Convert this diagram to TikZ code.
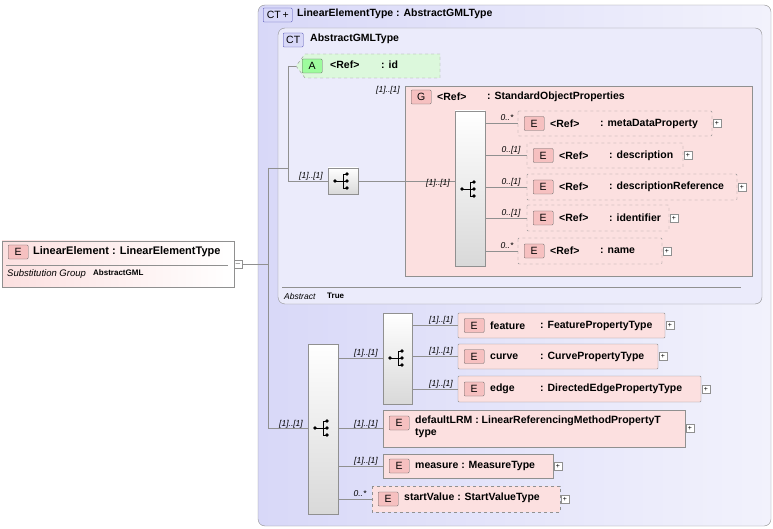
\documentclass[tikz,border=0pt]{standalone}
\usepackage{fontspec}
\setmainfont{Liberation Sans}
\begin{document}
\definecolor{lav}{HTML}{D8D8F8}
\definecolor{lav2}{HTML}{F2F2FC}
\definecolor{pk}{HTML}{FCE0E0}
\definecolor{pkd}{HTML}{F4B0B0}
\definecolor{gr}{HTML}{DCF8DC}
\definecolor{ln}{HTML}{909090}
\begin{tikzpicture}[x=1pt,y=-1pt,
  every node/.style={font=\fontsize{10.5}{12}\selectfont\bfseries, inner sep=0pt},
  box/.style={draw=ln, fill=pk},
  opt/.style={box, dashed},
  badge/.style={draw=gray!80!black, fill=pkd!80, rounded corners=1pt, minimum width=20pt, minimum height=14pt, font=\fontsize{10.5}{11}\selectfont},
  card/.style={font=\fontsize{8.5}{9}\selectfont\itshape},
  seq/.style={draw=ln, top color=white, bottom color=gray!30},
  plus/.style={draw=ln, fill=white, minimum size=8pt, font=\fontsize{7}{7}\selectfont},
  con/.style={draw=ln, line width=0.6pt}]
\useasboundingbox (0,0) rectangle (773,529);
\newcommand\El[8]{%
  \draw[#6, rounded corners=1pt] (#2,#3) rectangle (#4,#5);
  \node[badge, anchor=west] (#1b) at ({#2+6},{(#3+#5)/2}) {E};
  \node[anchor=west] (#1) at ({#2+32},{(#3+#5)/2}) {#7};
  \node[anchor=west] (#1t) at ({#2+82},{(#3+#5)/2}) {#8};
  \node[plus] (#1p) at ({#4+5},{(#3+#5)/2}) {+};}
% outer CT
\draw[ln, rounded corners=7pt, left color=lav, right color=lav2] (258,5) rectangle (771,526);
\node[badge, fill=lav, draw=gray!60!blue, anchor=west, minimum width=29pt] (ct1) at (263,15) {CT\,+};
\node[anchor=west] (t1) at (297,14) {LinearElementType : AbstractGMLType};
% inner CT
\draw[ln, rounded corners=7pt, fill=lav!50!white] (278,28) rectangle (762,304);
\node[badge, fill=lav, draw=gray!60!blue, anchor=west] (ct2) at (283,40) {CT};
\node[anchor=west] (t2) at (310,39) {AbstractGMLType};
\draw[ln] (282,287) -- (741,287);
\node[card, anchor=west] (abs) at (284,296) {Abstract};
\node[anchor=west, font=\fontsize{8}{9}\selectfont\bfseries] (abst) at (327,296) {True};
% attribute
\draw[ln, dashed, fill=gr] (305,54) -- (440,54) -- (440,78) -- (305,78) -- (296,66) -- cycle;
\node[badge, fill=gr!60!green!80!white, anchor=west] (ab) at (302,66) {A};
\node[anchor=west] (aref) at (330,65) {<Ref>};
\node[anchor=west] (aid) at (381,65) {: id};
% group
\draw[ln, fill=pk] (405,86) rectangle (752,276);
\node[badge, anchor=west] (gb) at (411,97) {G};
\node[anchor=west] (gt) at (437,97) {<Ref>};
\node[anchor=west] (gt2) at (487,97) {: StandardObjectProperties};
\node[card] (gc) at (388,90) {[1]..[1]};
\draw[seq] (455,111) rectangle (485,266);
\newcommand\seqicon[2]{\fill (#1-8,#2) circle (1.9pt); \draw[line width=0.8pt] (#1-8,#2)--(#1,#2) (#1,#2-7)--(#1,#2+7);
  \foreach \d in {-7,0,7}{\fill (#1+4,#2+\d) circle (1.9pt); \draw[line width=0.8pt] (#1,#2+\d)--(#1+4,#2+\d);}}
\seqicon{470}{189}
\draw[con] (485,123) -- (518,123) (485,155) -- (527,155) (485,187) -- (527,187) (485,218) -- (527,218) (485,251) -- (518,251);
\El{md}{518}{111}{712}{136}{opt}{<Ref>}{: metaDataProperty}
\El{de}{527}{143}{683}{168}{opt}{<Ref>}{: description}
\El{dr}{527}{174}{737}{200}{opt}{<Ref>}{: descriptionReference}
\El{idf}{527}{205}{669}{231}{opt}{<Ref>}{: identifier}
\El{nm}{518}{238}{662}{264}{opt}{<Ref>}{: name}
\node[card] at (507,118) {0..*};
\node[card] at (511,150) {0..[1]};
\node[card] at (511,182) {0..[1]};
\node[card] at (511,213) {0..[1]};
\node[card] at (507,246) {0..*};
% inner seq
\draw[con] (288,66) -- (296,66) (288,66) -- (288,181) -- (328,181) (358,181) -- (455,181);
\draw[seq] (328,168) rectangle (358,194);
\seqicon{343}{181}
\node[card] at (311,176) {[1]..[1]};
\node[card] at (438,183) {[1]..[1]};
% left element
\draw[ln, left color=pk, right color=white] (2,241) rectangle (234,287);
\node[badge, anchor=west] (leb) at (8,252) {E};
\node[anchor=west, font=\fontsize{11}{12}\selectfont\bfseries] (le) at (33,252) {LinearElement : LinearElementType};
\draw[ln] (6,265) -- (228,265);
\node[card, anchor=west, font=\fontsize{9.5}{10}\selectfont\itshape] (sg) at (7,274) {Substitution Group};
\node[anchor=west, font=\fontsize{8}{9}\selectfont\bfseries] (sgv) at (93,273) {AbstractGML};
\node[plus] (lep) at (238,264) {$-$};
\draw[con] (lep.east) -- (268,264) (268,168) -- (268,428) -- (308,428) (268,168) -- (288,168);
\node[card] at (291,424) {[1]..[1]};
% lower
\draw[seq] (308,344) rectangle (338,514);
\seqicon{323}{428}
\draw[seq] (383,313) rectangle (412,404);
\seqicon{398}{358}
\draw[con] (338,358) -- (383,358) (412,325) -- (458,325) (412,356) -- (458,356) (412,389) -- (458,389)
  (338,428) -- (383,428) (338,466) -- (383,466) (338,499) -- (372,499);
\node[card] at (366,353) {[1]..[1]};
\node[card] at (441,320) {[1]..[1]};
\node[card] at (441,351) {[1]..[1]};
\node[card] at (441,384) {[1]..[1]};
\node[card] at (366,424) {[1]..[1]};
\node[card] at (366,461) {[1]..[1]};
\node[card] at (360,494) {0..*};
\El{fe}{458}{313}{665}{338}{box}{feature}{: FeaturePropertyType}
\El{cu}{458}{344}{658}{369}{box}{curve}{: CurvePropertyType}
\El{ed}{458}{376}{701}{402}{box}{edge}{: DirectedEdgePropertyType}
\draw[box] (383,410) rectangle (685,447);
\node[badge, anchor=west] (dlb) at (389,423) {E};
\node[anchor=north west, align=left] (dl) at (415,416) {defaultLRM : LinearReferencingMethodPropertyT\\type};
\node[plus] (dlp) at (690,428) {+};
\draw[box] (383,454) rectangle (553,478);
\node[badge, anchor=west] (meb) at (389,466) {E};
\node[anchor=west] (me) at (415,466) {measure : MeasureType};
\node[plus] (mep) at (558,466) {+};
\draw[opt] (372,486) rectangle (560,512);
\node[badge, anchor=west] (svb) at (378,499) {E};
\node[anchor=west] (sv) at (404,498) {startValue : StartValueType};
\node[plus] (svp) at (565,499) {+};
\end{tikzpicture}
\end{document}
